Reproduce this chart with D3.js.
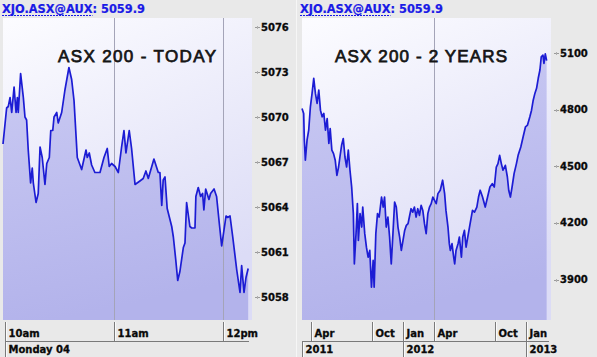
<!DOCTYPE html>
<html><head><meta charset="utf-8">
<script src="https://cdn.jsdelivr.net/npm/d3@7"></script>
<style>html,body{margin:0;padding:0;background:#e9e9e9;overflow:hidden}</style>
</head><body><svg id="c" width="597" height="357"></svg>
<script>
// ---------- DATA ----------
const headerText = "XJO.ASX@AUX: 5059.9";
const headerLink = "XJO.ASX@AUX";
const titleToday = "ASX 200 - TODAY";
const titleTwoYears = "ASX 200 - 2 YEARS";

// Today (Monday 04 Feb 2013) — minutes after 10:00
const todayMinutes = [-1.1,0.9,1.8,2.8,3.7,5.0,6.1,6.8,7.3,8.6,10.1,11.0,11.9,12.8,14.1,15.0,15.6,17.1,18.3,19.3,20.5,22.0,23.0,24.4,25.2,26.3,27.0,28.5,29.3,31.2,33.0,35.2,36.7,38.0,39.8,42.2,44.6,45.3,46.4,47.7,49.5,52.3,54.5,56.3,57.4,58.7,60.6,62.4,64.2,65.5,66.6,68.4,69.7,71.6,73.9,76.1,77.6,78.9,82.0,84.4,85.3,86.3,87.1,88.1,89.3,91.8,92.7,94.0,95.1,96.3,98.2,99.1,100.0,101.8,102.8,104.6,105.1,106.4,107.7,108.8,109.5,110.5,112.3,113.2,115.1,116.5,118.0,119.3,121.7,122.6,123.9,125.4,127.6,129.4,130.3,131.6,132.7,133.9];
const todayValues = [5068.2,5070.6,5070.7,5071.3,5070.3,5072.0,5070.3,5071.3,5070.3,5072.9,5071.3,5070.0,5069.8,5067.8,5065.6,5066.6,5065.6,5064.3,5064.9,5068.0,5067.3,5065.5,5066.9,5067.3,5069.1,5069.1,5070.0,5070.3,5069.6,5070.3,5071.8,5073.3,5072.5,5071.1,5067.3,5066.5,5067.8,5067.3,5067.6,5066.8,5066.3,5066.3,5067.3,5067.9,5066.7,5066.9,5066.7,5066.3,5068.0,5069.1,5067.6,5069.1,5067.9,5065.5,5065.7,5065.9,5066.4,5065.9,5067.2,5066.3,5066.3,5064.1,5065.8,5066.0,5063.9,5062.7,5062.0,5060.5,5059.1,5059.7,5061.3,5061.6,5064.3,5062.7,5062.6,5062.6,5064.7,5065.3,5064.7,5064.9,5063.8,5065.2,5064.5,5064.9,5065.2,5064.7,5062.9,5061.4,5063.4,5063.3,5063.4,5062.0,5059.8,5058.3,5060.1,5058.3,5059.3,5059.9];

const todayYTicks = [5076,5073,5070,5067,5064,5061,5058];
const todayHourTicks = ["10:00","11:00","12:00"];
const todayHourLabels = ["10am","11am","12pm"];
const todayGridHours = ["11:00","12:00"];
const todayDayLabels = ["Monday 04"];

// Two years
const twoYearDates = ["2011-03-05","2011-03-10","2011-03-12","2011-03-15","2011-03-20","2011-03-25","2011-03-30","2011-04-04","2011-04-09","2011-04-14","2011-04-19","2011-04-24","2011-04-29","2011-05-04","2011-05-09","2011-05-14","2011-05-19","2011-05-24","2011-05-28","2011-06-02","2011-06-07","2011-06-12","2011-06-17","2011-06-22","2011-06-26","2011-07-01","2011-07-06","2011-07-11","2011-07-16","2011-07-21","2011-07-26","2011-07-31","2011-08-05","2011-08-08","2011-08-13","2011-08-17","2011-08-20","2011-08-25","2011-08-30","2011-09-02","2011-09-08","2011-09-13","2011-09-18","2011-09-23","2011-09-28","2011-10-03","2011-10-06","2011-10-11","2011-10-16","2011-10-21","2011-10-28","2011-11-02","2011-11-06","2011-11-11","2011-11-16","2011-11-21","2011-11-26","2011-12-01","2011-12-06","2011-12-11","2011-12-16","2011-12-21","2011-12-26","2011-12-31","2012-01-05","2012-01-10","2012-01-15","2012-01-19","2012-01-24","2012-01-29","2012-02-03","2012-02-08","2012-02-13","2012-02-18","2012-02-23","2012-02-28","2012-03-04","2012-03-09","2012-03-14","2012-03-19","2012-03-24","2012-03-29","2012-04-03","2012-04-08","2012-04-13","2012-04-20","2012-04-27","2012-05-03","2012-05-07","2012-05-13","2012-05-17","2012-05-20","2012-05-25","2012-05-30","2012-06-02","2012-06-06","2012-06-12","2012-06-16","2012-06-22","2012-06-26","2012-07-01","2012-07-06","2012-07-11","2012-07-18","2012-07-25","2012-07-31","2012-08-07","2012-08-12","2012-08-17","2012-08-24","2012-09-01","2012-09-08","2012-09-15","2012-09-22","2012-09-28","2012-10-04","2012-10-09","2012-10-14","2012-10-19","2012-10-24","2012-10-31","2012-11-06","2012-11-10","2012-11-15","2012-11-20","2012-11-26","2012-12-03","2012-12-08","2012-12-16","2012-12-23","2012-12-30","2013-01-05","2013-01-12","2013-01-17","2013-01-22","2013-01-27","2013-02-01","2013-02-06","2013-02-11","2013-02-15","2013-02-20","2013-02-23","2013-02-27","2013-03-03"];
const twoYearValues = [4806,4780,4638,4532,4638,4691,4815,4886,4966,4886,4833,4904,4797,4762,4780,4691,4753,4621,4700,4585,4567,4532,4452,4496,4549,4611,4647,4549,4496,4585,4479,4390,4249,3983,4143,4302,4107,4249,4178,4284,4143,4071,4018,4054,3859,4001,3859,4143,4249,4231,4337,4284,4337,4178,4231,4125,3983,4143,4310,4284,4178,4125,4054,4107,4160,4187,4196,4231,4275,4257,4284,4231,4275,4240,4293,4266,4196,4143,4249,4284,4302,4337,4319,4302,4355,4373,4426,4355,4266,4178,4090,4054,4090,4018,3983,4054,4090,4125,4018,4125,4160,4071,4125,4196,4266,4257,4284,4337,4373,4337,4284,4337,4390,4408,4390,4496,4514,4558,4514,4479,4505,4443,4373,4337,4390,4461,4514,4558,4602,4656,4709,4718,4762,4797,4850,4886,4913,4966,5010,5080,5089,5045,5095,5060];

const twoYearYTicks = [5100,4800,4500,4200,3900];
const twoYearMonthTicks = ["2011-04-01","2011-10-01","2012-01-01","2012-04-01","2012-10-01","2013-01-01"];
const twoYearMonthLabels = ["Apr","Oct","Jan","Apr","Oct","Jan"];
const twoYearYearTicks = ["2011-03-05","2012-01-01","2013-01-01"];
const twoYearYearLabels = ["2011","2012","2013"];
const twoYearGridDates = ["2012-04-01"];

// ---------- HELPERS ----------
const svg = d3.select("#c");
const parseDate = d3.timeParse("%Y-%m-%d");
const base = new Date(2013,1,4,10,0,0);
const atMin = m => new Date(base.getTime() + m*60000);
const parseHM = s => { const [h,m] = s.split(":").map(Number); return new Date(2013,1,4,h,m,0); };

const defs = svg.append("defs");
const bg = defs.append("linearGradient").attr("id","bg").attr("x1",0).attr("y1",0).attr("x2",0.35).attr("y2",1);
bg.append("stop").attr("offset",0).attr("stop-color","#fcfcff");
bg.append("stop").attr("offset",1).attr("stop-color","#dcdcf6");
const ar = defs.append("linearGradient").attr("id","ar").attr("x1",0).attr("y1",0).attr("x2",0.2).attr("y2",1);
ar.append("stop").attr("offset",0).attr("stop-color","#cacaf3");
ar.append("stop").attr("offset",1).attr("stop-color","#b3b3eb");

const PT = 18, PB = 320;
const FONT = "'DejaVu Sans', Verdana, sans-serif";

function label(g, x, y, txt){
  return g.append("text").attr("x",x).attr("y",y)
    .style("font-family",FONT).style("font-weight","bold").style("font-size","10px")
    .attr("fill","#0a0a0a").attr("stroke","#0a0a0a").attr("stroke-width",0.3).text(txt);
}

function panel(o){
  const g = svg.append("g");
  // header
  const ht = g.append("text").attr("x", o.hx).attr("y", 13)
    .style("font-family", FONT).style("font-weight","bold").style("font-size","11.4px")
    .attr("fill","#1a1ae6").attr("stroke","#1a1ae6").attr("stroke-width",0.2).text(o.header);
  const linkW = ht.node().getSubStringLength(0, headerLink.length);
  g.append("line").attr("x1",o.hx).attr("x2",o.hx+linkW).attr("y1",15.5).attr("y2",15.5)
    .attr("stroke","#1a1ae6").attr("stroke-dasharray","2,1");

  // plot bg
  g.append("rect").attr("x",o.x.range()[0]).attr("y",PT)
    .attr("width",o.x.range()[1]-o.x.range()[0]).attr("height",PB-PT).attr("fill","url(#bg)");

  const data = o.xs.map((d,i)=>({x:d, y:o.vals[i]}));
  const area = d3.area().x(d=>o.x(d.x)).y0(PB).y1(d=>o.y(d.y));
  const line = d3.line().x(d=>o.x(d.x)).y(d=>o.y(d.y));
  g.append("path").datum(data).attr("d",area).attr("fill","url(#ar)");

  // gridlines
  o.grid.forEach(t=>{
    g.append("line").attr("x1",Math.round(o.x(t))+0.5).attr("x2",Math.round(o.x(t))+0.5)
      .attr("y1",PT).attr("y2",PB).attr("stroke","#a4a4b8").attr("stroke-width",1);
  });

  g.append("path").datum(data).attr("d",line).attr("fill","none")
    .attr("stroke","#1c1cd4").attr("stroke-width",1.7).attr("stroke-linejoin","round");

  // title
  g.append("text").attr("x",o.tx).attr("y",62).attr("textLength",o.tw).attr("lengthAdjust","spacing")
    .style("font-family","'Liberation Sans', Arial, sans-serif").style("font-size","17px")
    .attr("fill","#151515").attr("stroke","#151515").attr("stroke-width",0.75).text(o.title);

  // right axis
  const xr = o.x.range()[1];
  o.yt.forEach(v=>{
    const yy = Math.round(o.y(v))+0.5;
    g.append("line").attr("x1",xr+3).attr("x2",xr+8).attr("y1",yy).attr("y2",yy).attr("stroke","#9a9a9a");
    g.append("line").attr("x1",xr+5.5).attr("x2",xr+5.5).attr("y1",yy-1.5).attr("y2",yy+1.5).attr("stroke","#b0b0b0");
    label(g, xr+9, o.y(v), v).attr("dy","0.36em");
  });

  // bottom axis rows
  const r1t = 322, r1b = 341, r2b = 357;
  const tx1 = o.row1.map(t=>Math.round(o.x(t))+0.5);
  g.append("line").attr("x1",o.hl[0]).attr("x2",o.hl[1]).attr("y1",r1b+0.5).attr("y2",r1b+0.5).attr("stroke","#7a7a7a");
  tx1.forEach((xx,i)=>{
    g.append("line").attr("x1",xx).attr("x2",xx).attr("y1",r1t).attr("y2",r1b).attr("stroke","#7a7a7a");
    g.append("line").attr("x1",xx+1).attr("x2",xx+1).attr("y1",r1t).attr("y2",r1b).attr("stroke","#fafafa");
    label(g, xx+3, 337, o.row1L[i]);
  });
  o.row2.forEach((t,i)=>{
    const xx = Math.round(o.x(t))+0.5;
    g.append("line").attr("x1",xx).attr("x2",xx).attr("y1",r1b).attr("y2",r2b).attr("stroke","#7a7a7a");
    g.append("line").attr("x1",xx+1).attr("x2",xx+1).attr("y1",r1b+1).attr("y2",r2b).attr("stroke","#fafafa");
    label(g, xx+3, 353, o.row2L[i]);
  });
}

// LEFT: today
const xT = d3.scaleTime().domain([atMin(-1.1), atMin(136)]).range([3, 252]);
const yT = d3.scaleLinear().domain([5058, 5076]).range([297, 27]);
panel({
  hx: 2, header: headerText, title: titleToday, tx: 58, tw: 158,
  x: xT, y: yT, xs: todayMinutes.map(atMin), vals: todayValues,
  grid: todayGridHours.map(parseHM), yt: todayYTicks,
  row1: todayHourTicks.map(parseHM), row1L: todayHourLabels,
  row2: [parseHM("10:00")], row2L: todayDayLabels, hl: [5, 249]
});

// separator
svg.append("line").attr("x1",296.5).attr("x2",296.5).attr("y1",0).attr("y2",357).attr("stroke","#f6f6f6");

// RIGHT: 2 years
const xY = d3.scaleTime().domain([parseDate("2011-03-05"), parseDate("2013-03-16")]).range([302, 551]);
const yY = d3.scaleLinear().domain([3900, 5100]).range([279.5, 53]);
panel({
  hx: 300, header: headerText, title: titleTwoYears, tx: 335, tw: 172,
  x: xY, y: yY, xs: twoYearDates.map(parseDate), vals: twoYearValues,
  grid: twoYearGridDates.map(parseDate), yt: twoYearYTicks,
  row1: twoYearMonthTicks.map(parseDate), row1L: twoYearMonthLabels,
  row2: twoYearYearTicks.map(parseDate), row2L: twoYearYearLabels, hl: [302, 549]
});
</script></body></html>
